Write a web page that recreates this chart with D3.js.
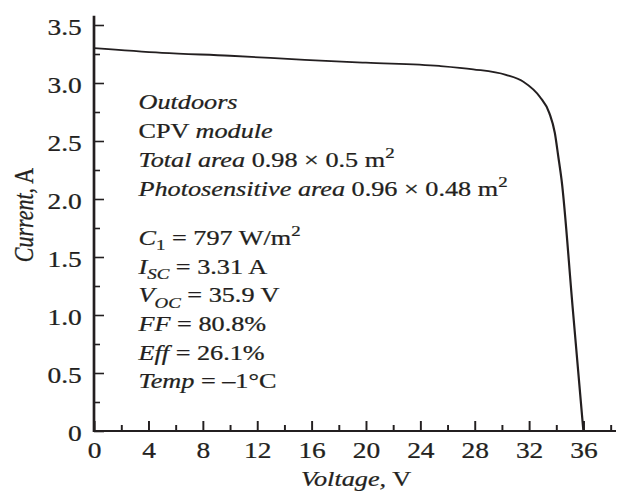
<!DOCTYPE html>
<html>
<head>
<meta charset="utf-8">
<script src="https://cdn.jsdelivr.net/npm/d3@7"></script>
<style>
  body { margin: 0; background: #fff; }
  text { font-family: "Liberation Serif", "Times New Roman", serif; fill: #231f20; white-space: pre; }
</style>
</head>
<body>
<div id="chart"></div>
<script>
//constants
const width = 618;
const height = 494;
const sx = 1.22; // the original figure is stretched sideways
const ink = "#231f20";

// I-V curve
const voltage = [0, 5, 10, 15.5, 20, 25.4, 27.9, 30.3, 31.6, 32.8, 33.5, 33.9, 34.15, 34.4, 35.2, 36.0];
const current = [3.30, 3.26, 3.235, 3.20, 3.175, 3.147, 3.118, 3.07, 3.01, 2.88, 2.74, 2.57, 2.37, 2.16, 1.08, 0];

// ticks
const xTicks = [0, 4, 8, 12, 16, 20, 24, 28, 32, 36];
const xMinor = [2, 6, 10, 14, 18, 22, 26, 30, 34, 38];
const yTicks = [0, 0.5, 1.0, 1.5, 2.0, 2.5, 3.0, 3.5];
const yMinor = [0.25, 0.75, 1.25, 1.75, 2.25, 2.75, 3.25];

// annotation lines: [text, style]
const notes = [
  [["Outdoors", "i"]],
  [["CPV ", "r"], ["module", "i"]],
  [["Total area", "i"], [" 0.98 × 0.5 m", "r"], ["2", "sup"]],
  [["Photosensitive area", "i"], [" 0.96 × 0.48 m", "r"], ["2", "sup"]],
  null,
  [["C", "i"], ["1", "sub"], [" = 797 W/m", "r"], ["2", "sup"]],
  [["I", "i"], ["SC", "isub"], [" = 3.31 A", "r"]],
  [["V", "i"], ["OC", "isub"], [" = 35.9 V", "r"]],
  [["FF", "i"], [" = 80.8%", "r"]],
  [["Eff", "i"], [" = 26.1%", "r"]],
  [["Temp", "i"], [" = –1°C", "r"]],
];

const data = voltage.map((v, i) => ({ v: v, c: current[i] }));

const svg = d3
  .select("#chart")
  .append("svg")
  .attr("width", width)
  .attr("height", height);

svg.append("rect").attr("width", width).attr("height", height).attr("fill", "#fff");

const g = svg.append("g").attr("transform", `scale(${sx},1)`);

//scales (range in stretched page pixels divided back)
const x = d3.scaleLinear().domain([0, 38.4]).range([94 / sx, 616 / sx]);
const y = d3.scaleLinear().domain([0, 3.5]).range([431, 25]);

//x axis
const xAxis = g.append("g").attr("transform", `translate(0,${y(0)})`).attr("color", ink);
xAxis.call(d3.axisBottom(x).tickValues(xTicks).tickSize(-10).tickPadding(11).tickFormat(d3.format("d")));
xAxis.append("g").call(d3.axisBottom(x).tickValues(xMinor).tickSize(-6).tickFormat(""));
xAxis.selectAll("path.domain").remove();
xAxis.selectAll(".tick line").attr("stroke-width", 1.6);
xAxis.selectAll(".tick text").attr("font-size", 22.5).attr("font-family", "Liberation Serif").attr("fill", ink)
  .attr("stroke", ink).attr("stroke-width", 0.25);

//y axis
const yAxis = g.append("g").attr("transform", `translate(${x(0)},0)`).attr("color", ink);
yAxis.call(
  d3.axisLeft(y)
    .tickValues(yTicks)
    .tickSize(-10 / sx)
    .tickPadding(12.3 / sx)
    .tickFormat((d) => (d === 0 ? "0" : d3.format(".1f")(d)))
);
yAxis.append("g").call(d3.axisLeft(y).tickValues(yMinor).tickSize(-6 / sx).tickFormat(""));
yAxis.selectAll("path.domain").remove();
yAxis.selectAll(".tick line").attr("stroke-width", 1.6);
yAxis.selectAll(".tick text").attr("font-size", 22.5).attr("font-family", "Liberation Serif").attr("fill", ink)
  .attr("stroke", ink).attr("stroke-width", 0.25).attr("dy", "0.4em");

//axis lines
g.append("line")
  .attr("x1", x(0)).attr("x2", x(38.4))
  .attr("y1", y(0)).attr("y2", y(0))
  .attr("stroke", ink).attr("stroke-width", 2.2);
g.append("line")
  .attr("x1", x(0)).attr("x2", x(0))
  .attr("y1", y(0) + 1.1).attr("y2", y(3.58))
  .attr("stroke", ink).attr("stroke-width", 2.2);

//curve
const line = d3.line().x((d) => x(d.v)).y((d) => y(d.c)).curve(d3.curveMonotoneX);
g.append("path")
  .datum(data)
  .attr("d", line)
  .attr("fill", "none")
  .attr("stroke", ink)
  .attr("stroke-width", 1.8);

//axis titles
const xt = g.append("text")
  .attr("x", 356 / sx)
  .attr("y", 486)
  .attr("text-anchor", "middle")
  .attr("font-size", 21.5)
  .attr("stroke", ink).attr("stroke-width", 0.25);
xt.append("tspan").attr("font-style", "italic").text("Voltage,");
xt.append("tspan").text(" V");

const yt = g.append("text")
  .attr("transform", `translate(${33 / sx},215) rotate(-90)`)
  .attr("text-anchor", "middle")
  .attr("font-size", 22)
  .attr("stroke", ink).attr("stroke-width", 0.25);
yt.append("tspan").attr("font-style", "italic").text("Current,");
yt.append("tspan").text(" A");

//annotation block
const baselines = [109.5, 138.2, 166.9, 195.6, null, 245, 273.7, 302.4, 331.1, 359.8, 388.5];
notes.forEach((segs, i) => {
  if (!segs) return;
  const t = g.append("text").attr("x", 138.5 / sx).attr("y", baselines[i]).attr("font-size", 21.5)
    .attr("stroke", ink).attr("stroke-width", 0.25);
  let shift = 0;
  segs.forEach(([s, kind]) => {
    const target = kind === "sub" || kind === "isub" ? 5.5 : kind === "sup" ? -8.5 : 0;
    const ts = t.append("tspan").text(s).attr("dy", target - shift);
    shift = target;
    if (kind === "i" || kind === "isub") ts.attr("font-style", "italic");
    if (kind === "sub" || kind === "isub" || kind === "sup") ts.attr("font-size", "0.72em");
  });
});
</script>
</body>
</html>
